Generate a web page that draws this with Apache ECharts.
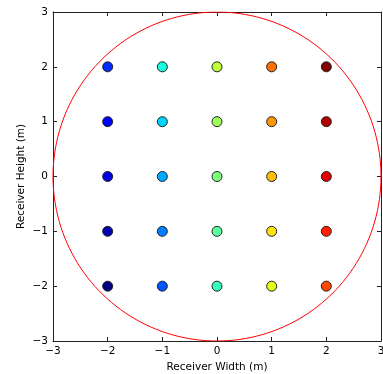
<!DOCTYPE html>
<html>
<head>
<meta charset="utf-8">
<script src="https://cdn.jsdelivr.net/npm/echarts@6/dist/echarts.min.js"></script>
<style>
html,body{margin:0;padding:0;background:#fff;}
#chart{width:383px;height:374px;}
</style>
</head>
<body>
<div id="chart"></div>
<script>
// Receiver positions (m)
const xs = [-2,-2,-2,-2,-2, -1,-1,-1,-1,-1, 0,0,0,0,0, 1,1,1,1,1, 2,2,2,2,2];
const ys = [-2,-1,0,1,2, -2,-1,0,1,2, -2,-1,0,1,2, -2,-1,0,1,2, -2,-1,0,1,2];
// Colour of each receiver (jet colormap)
const colors = [
  '#000080','#0000b0','#0000e0','#0000ff','#002aff',
  '#0055ff','#0080ff','#00aaff','#00d4ff','#15ffe2',
  '#37ffc0','#5aff9e','#7bff7b','#9eff59','#c0ff37',
  '#e2ff15','#ffe600','#ffbe00','#ff9700','#ff7000',
  '#ff4800','#ff2100','#e00000','#b00000','#800000'
];
const ticks = [-3,-2,-1,0,1,2,3];
const circleRadius = 3;
const xName = 'Receiver Width (m)';
const yName = 'Receiver Height (m)';

const pts = xs.map((x,i)=>({value:[x, ys[i]], itemStyle:{color:colors[i]}}));
const circle = [];
for (let k=0;k<=360;k+=2){
  const a = k*Math.PI/180;
  circle.push([circleRadius*Math.cos(a), circleRadius*Math.sin(a)]);
}
const font = 'DejaVu Sans';
const fs = 10.5;
const fmt = v => String(v).replace('-', '\u2212');
const axisCommon = {
  min: ticks[0], max: ticks[ticks.length-1], interval: 1,
  axisLine:{show:true, onZero:false, lineStyle:{color:'#222', width:1}},
  axisTick:{show:true, inside:true, length:4, lineStyle:{color:'#222'}},
  splitLine:{show:false}
};
const chart = echarts.init(document.getElementById('chart'));
chart.setOption({
  animation:false,
  backgroundColor:'#fff',
  grid:{left:53, right:2, top:12, bottom:33, containLabel:false, outerBoundsMode:'none'},
  xAxis:[
    Object.assign({}, axisCommon, {type:'value', position:'bottom',
      name:xName, nameLocation:'middle', nameGap:21, nameMoveOverlap:false,
      nameTextStyle:{fontFamily:font, fontSize:fs, color:'#000'},
      axisLabel:{fontFamily:font, fontSize:fs, color:'#000', margin:5, formatter:fmt}}),
    Object.assign({}, axisCommon, {type:'value', position:'top', axisLabel:{show:false}})
  ],
  yAxis:[
    Object.assign({}, axisCommon, {type:'value', position:'left',
      name:yName, nameLocation:'middle', nameGap:26, nameMoveOverlap:false,
      nameTextStyle:{fontFamily:font, fontSize:fs, color:'#000'},
      axisLabel:{fontFamily:font, fontSize:fs, color:'#000', margin:5, formatter:fmt}}),
    Object.assign({}, axisCommon, {type:'value', position:'right', axisLabel:{show:false}})
  ],
  series:[
    {type:'line', data:circle, showSymbol:false, symbol:'none',
     lineStyle:{color:'#ff0000', width:1}, z:1, silent:true},
    {type:'scatter', data:pts, symbolSize:10,
     itemStyle:{borderColor:'#222', borderWidth:1, opacity:1}, z:3}
  ]
});
</script>
</body>
</html>
